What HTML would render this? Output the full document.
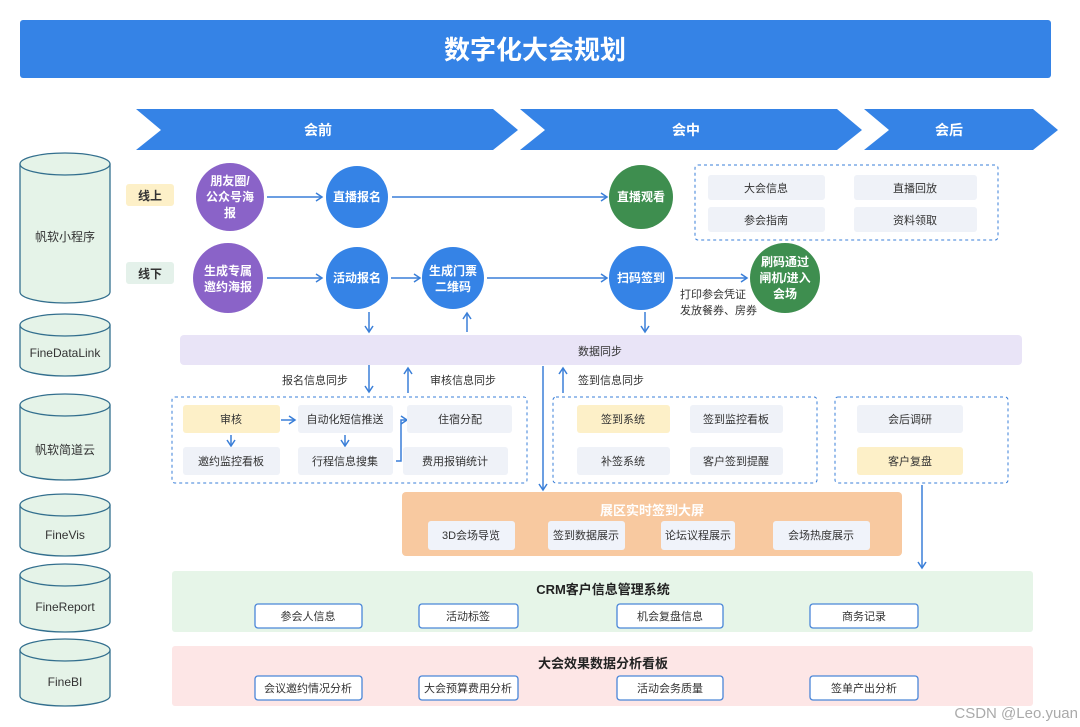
<!DOCTYPE html>
<html><head><meta charset="utf-8"><style>
html,body{margin:0;padding:0;background:#fff;}
svg{display:block;font-family:"Liberation Sans","Noto Sans CJK SC",sans-serif;}
</style></head><body>
<svg width="1080" height="727" viewBox="0 0 1080 727" xmlns="http://www.w3.org/2000/svg">
<defs>
<marker id="a" markerWidth="10" markerHeight="10" refX="8" refY="5" orient="auto" markerUnits="userSpaceOnUse"><path d="M2,1 L8,5 L2,9" fill="none" stroke="#3a7fd8" stroke-width="1.5"/></marker>
</defs>
<rect width="1080" height="727" fill="#fff"/>
<rect x="20" y="20" width="1031" height="58" rx="3" fill="#3583e6"/>
<text x="535" y="59" text-anchor="middle" font-size="26" font-weight="bold" fill="#fff">数字化大会规划</text>
<path d="M136,109 L493,109 L518,130 L493,150 L136,150 L161,130 Z" fill="#3583e6"/>
<path d="M520,109 L837,109 L862,130 L837,150 L520,150 L545,130 Z" fill="#3583e6"/>
<path d="M864,109 L1033,109 L1058,130 L1033,150 L864,150 L889,130 Z" fill="#3583e6"/>
<g font-size="14" font-weight="bold" fill="#fff" text-anchor="middle">
<text x="318" y="135">会前</text><text x="686" y="135">会中</text><text x="949" y="135">会后</text></g>
<g fill="#e5f3e8" stroke="#336f8e" stroke-width="1.3">
<path d="M20,164 L20,292 A45,11 0 0 0 110,292 L110,164"/><ellipse cx="65" cy="164" rx="45" ry="11"/>
<path d="M20,325 L20,366 A45,10 0 0 0 110,366 L110,325"/><ellipse cx="65" cy="325" rx="45" ry="11"/>
<path d="M20,405 L20,470 A45,10 0 0 0 110,470 L110,405"/><ellipse cx="65" cy="405" rx="45" ry="11"/>
<path d="M20,505 L20,546 A45,10 0 0 0 110,546 L110,505"/><ellipse cx="65" cy="505" rx="45" ry="11"/>
<path d="M20,575 L20,622 A45,10 0 0 0 110,622 L110,575"/><ellipse cx="65" cy="575" rx="45" ry="11"/>
<path d="M20,650 L20,696 A45,10 0 0 0 110,696 L110,650"/><ellipse cx="65" cy="650" rx="45" ry="11"/>
</g>
<g font-size="12" fill="#333" text-anchor="middle">
<text x="65" y="241">帆软小程序</text><text x="65" y="357">FineDataLink</text><text x="65" y="454">帆软简道云</text>
<text x="65" y="539">FineVis</text><text x="65" y="611">FineReport</text><text x="65" y="686">FineBI</text></g>
<rect x="126" y="184" width="48" height="22" rx="3" fill="#fdf0c8"/><text x="150" y="200" text-anchor="middle" font-size="12" font-weight="bold" fill="#333">线上</text>
<rect x="126" y="262" width="48" height="22" rx="3" fill="#e4f1ea"/><text x="150" y="278" text-anchor="middle" font-size="12" font-weight="bold" fill="#333">线下</text>
<circle cx="230" cy="197" r="34" fill="#8a63c8"/><circle cx="357" cy="197" r="31" fill="#3583e6"/><circle cx="641" cy="197" r="32" fill="#3e8e4f"/>
<circle cx="228" cy="278" r="35" fill="#8a63c8"/><circle cx="357" cy="278" r="31" fill="#3583e6"/><circle cx="453" cy="278" r="31" fill="#3583e6"/>
<circle cx="641" cy="278" r="32" fill="#3583e6"/><circle cx="785" cy="278" r="35" fill="#3e8e4f"/>
<g font-size="12" font-weight="bold" fill="#fff" text-anchor="middle">
<text x="230" y="185">朋友圈/</text><text x="230" y="201">公众号海</text><text x="230" y="217">报</text>
<text x="357" y="201">直播报名</text><text x="641" y="201">直播观看</text>
<text x="228" y="275">生成专属</text><text x="228" y="291">邀约海报</text>
<text x="357" y="282">活动报名</text><text x="453" y="275">生成门票</text><text x="453" y="291">二维码</text>
<text x="641" y="282">扫码签到</text>
<text x="785" y="266">刷码通过</text><text x="785" y="282">闸机/进入</text><text x="785" y="298">会场</text></g>
<g stroke="#3a7fd8" stroke-width="1.5" fill="none" marker-end="url(#a)">
<line x1="267" y1="197" x2="322" y2="197"/><line x1="392" y1="197" x2="607" y2="197"/>
<line x1="267" y1="278" x2="322" y2="278"/><line x1="391" y1="278" x2="420" y2="278"/>
<line x1="487" y1="278" x2="607" y2="278"/><line x1="675" y1="278" x2="747" y2="278"/>
<line x1="369" y1="312" x2="369" y2="332"/><line x1="467" y1="332" x2="467" y2="313"/>
<line x1="645" y1="312" x2="645" y2="332"/>
<line x1="369" y1="365" x2="369" y2="392"/><line x1="408" y1="393" x2="408" y2="368"/>
<line x1="543" y1="366" x2="543" y2="490"/><line x1="563" y1="393" x2="563" y2="368"/>
<line x1="922" y1="485" x2="922" y2="568"/>
<line x1="281" y1="420" x2="295" y2="420"/><line x1="231" y1="435" x2="231" y2="446"/>
<line x1="345" y1="435" x2="345" y2="446"/>
<path d="M396,461 L401,461 L401,420 L407,420"/>
</g>
<g font-size="11" fill="#333"><text x="680" y="298">打印参会凭证</text><text x="680" y="314">发放餐券、房券</text></g>
<rect x="695" y="165" width="303" height="75" rx="3" fill="none" stroke="#3a7fd8" stroke-dasharray="3,3"/>
<g fill="#eff2f8"><rect x="708" y="175" width="117" height="25" rx="3"/><rect x="854" y="175" width="123" height="25" rx="3"/>
<rect x="708" y="207" width="117" height="25" rx="3"/><rect x="854" y="207" width="123" height="25" rx="3"/></g>
<g font-size="11" fill="#333" text-anchor="middle"><text x="766" y="192">大会信息</text><text x="915" y="192">直播回放</text>
<text x="766" y="224">参会指南</text><text x="915" y="224">资料领取</text></g>
<rect x="180" y="335" width="842" height="30" rx="4" fill="#e9e4f7"/>
<text x="578" y="355" font-size="11" fill="#333">数据同步</text>
<g font-size="11" fill="#333"><text x="282" y="384">报名信息同步</text><text x="430" y="384">审核信息同步</text><text x="578" y="384">签到信息同步</text></g>
<g fill="none" stroke="#3a7fd8" stroke-dasharray="3,3">
<rect x="172" y="397" width="355" height="86" rx="3"/><rect x="553" y="397" width="264" height="86" rx="3"/><rect x="835" y="397" width="173" height="86" rx="3"/></g>
<g fill="#eff2f8">
<rect x="183" y="405" width="97" height="28" rx="3" fill="#fdf0c8"/><rect x="298" y="405" width="95" height="28" rx="3"/><rect x="407" y="405" width="105" height="28" rx="3"/>
<rect x="183" y="447" width="97" height="28" rx="3"/><rect x="298" y="447" width="95" height="28" rx="3"/><rect x="403" y="447" width="105" height="28" rx="3"/>
<rect x="577" y="405" width="93" height="28" rx="3" fill="#fdf0c8"/><rect x="690" y="405" width="93" height="28" rx="3"/>
<rect x="577" y="447" width="93" height="28" rx="3"/><rect x="690" y="447" width="93" height="28" rx="3"/>
<rect x="857" y="405" width="106" height="28" rx="3"/><rect x="857" y="447" width="106" height="28" rx="3" fill="#fdf0c8"/></g>
<g font-size="11" fill="#333" text-anchor="middle">
<text x="231" y="423">审核</text><text x="345" y="423">自动化短信推送</text><text x="460" y="423">住宿分配</text>
<text x="231" y="465">邀约监控看板</text><text x="345" y="465">行程信息搜集</text><text x="455" y="465">费用报销统计</text>
<text x="623" y="423">签到系统</text><text x="736" y="423">签到监控看板</text><text x="623" y="465">补签系统</text><text x="736" y="465">客户签到提醒</text>
<text x="910" y="423">会后调研</text><text x="910" y="465">客户复盘</text></g>
<rect x="402" y="492" width="500" height="64" rx="4" fill="#f8c9a0"/>
<text x="652" y="515" text-anchor="middle" font-size="13" font-weight="bold" fill="#fff">展区实时签到大屏</text>
<g fill="#f0f3fa"><rect x="428" y="521" width="87" height="29" rx="3"/><rect x="548" y="521" width="77" height="29" rx="3"/><rect x="661" y="521" width="74" height="29" rx="3"/><rect x="773" y="521" width="97" height="29" rx="3"/></g>
<g font-size="11" fill="#333" text-anchor="middle"><text x="471" y="539">3D会场导览</text><text x="586" y="539">签到数据展示</text><text x="698" y="539">论坛议程展示</text><text x="821" y="539">会场热度展示</text></g>
<rect x="172" y="571" width="861" height="61" rx="3" fill="#e6f5e8"/>
<text x="603" y="594" text-anchor="middle" font-size="13" font-weight="bold" fill="#222">CRM客户信息管理系统</text>
<g fill="#fff" stroke="#4a86d8" stroke-width="1.3"><rect x="255" y="604" width="107" height="24" rx="3"/><rect x="419" y="604" width="99" height="24" rx="3"/><rect x="617" y="604" width="106" height="24" rx="3"/><rect x="810" y="604" width="108" height="24" rx="3"/></g>
<g font-size="11" fill="#333" text-anchor="middle"><text x="308" y="620">参会人信息</text><text x="468" y="620">活动标签</text><text x="670" y="620">机会复盘信息</text><text x="864" y="620">商务记录</text></g>
<rect x="172" y="646" width="861" height="60" rx="3" fill="#fde6e6"/>
<text x="603" y="668" text-anchor="middle" font-size="13" font-weight="bold" fill="#222">大会效果数据分析看板</text>
<g fill="#fff" stroke="#4a86d8" stroke-width="1.3"><rect x="255" y="676" width="107" height="24" rx="3"/><rect x="419" y="676" width="99" height="24" rx="3"/><rect x="617" y="676" width="106" height="24" rx="3"/><rect x="810" y="676" width="108" height="24" rx="3"/></g>
<g font-size="11" fill="#333" text-anchor="middle"><text x="308" y="692">会议邀约情况分析</text><text x="468" y="692">大会预算费用分析</text><text x="670" y="692">活动会务质量</text><text x="864" y="692">签单产出分析</text></g>
<text x="1078" y="718" text-anchor="end" font-size="15" fill="#aaa">CSDN @Leo.yuan</text>
</svg>
</body></html>
